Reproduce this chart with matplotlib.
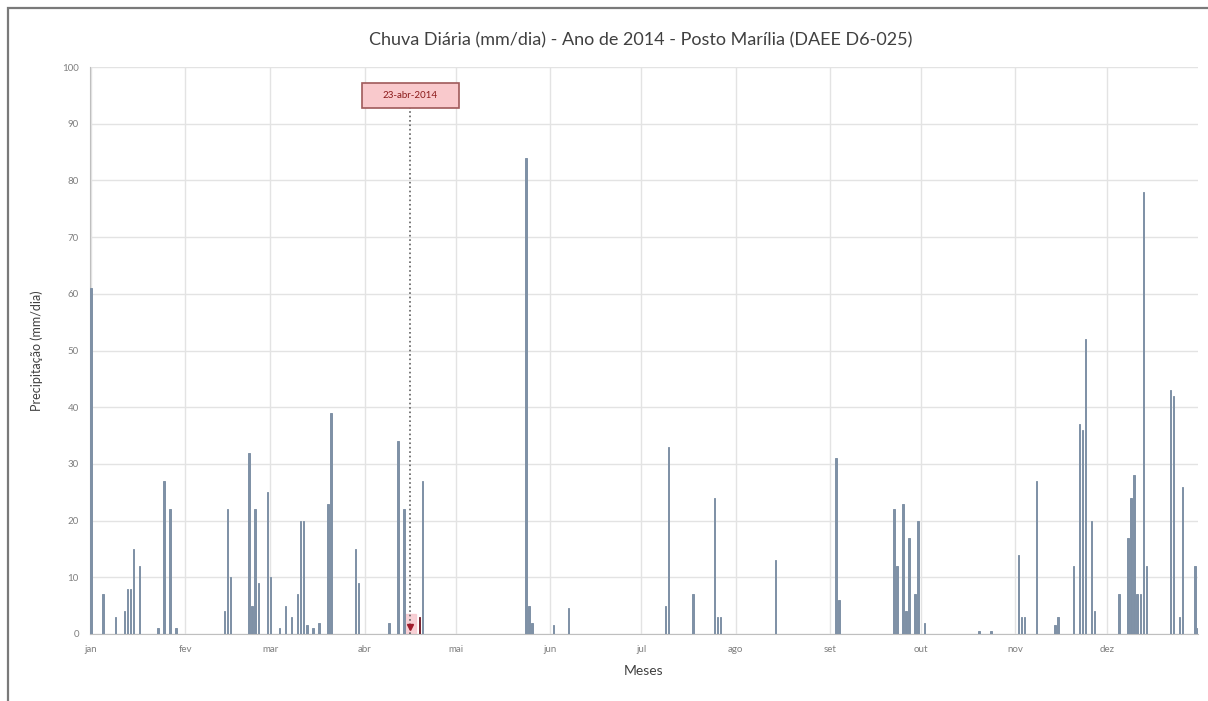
import pandas as pd
import matplotlib.pyplot as plt
from matplotlib.patches import Rectangle

# chuva diaria 2014 - posto Marilia
datas = ['01-01', '01-05', '01-09', '01-12', '01-13', '01-14', '01-15', '01-17',
         '01-23', '01-25', '01-27', '01-29',
         '02-14', '02-15', '02-16', '02-22', '02-23', '02-24', '02-25', '02-28',
         '03-01', '03-04', '03-06', '03-08', '03-10', '03-11', '03-12', '03-13',
         '03-15', '03-17', '03-20', '03-21', '03-29', '03-30',
         '04-09', '04-12', '04-14', '04-19', '04-20',
         '05-24', '05-25', '05-26', '06-02', '06-07',
         '07-09', '07-10', '07-18', '07-25', '07-26', '07-27', '08-14',
         '09-03', '09-04', '09-22', '09-23', '09-25', '09-26', '09-27', '09-29',
         '09-30', '10-02', '10-20', '10-24',
         '11-02', '11-03', '11-04', '11-08', '11-14', '11-15', '11-20', '11-22',
         '11-23', '11-24', '11-26', '11-27',
         '12-05', '12-08', '12-09', '12-10', '12-11', '12-12', '12-13', '12-14',
         '12-22', '12-23', '12-25', '12-26', '12-30', '12-31']
chuva = [61, 7, 3, 4, 8, 8, 15, 12,
         1, 27, 22, 1,
         4, 22, 10, 32, 5, 22, 9, 25,
         10, 1, 5, 3, 7, 20, 20, 1.5,
         1, 2, 23, 39, 15, 9,
         2, 34, 22, 3, 27,
         84, 5, 2, 1.5, 4.5,
         5, 33, 7, 24, 3, 3, 13,
         31, 6, 22, 12, 23, 4, 17, 7,
         20, 2, 0.5, 0.5,
         14, 3, 3, 27, 1.5, 3, 12, 37,
         36, 52, 20, 4,
         7, 17, 24, 28, 7, 7, 78, 12,
         43, 42, 3, 26, 12, 1]

meses = ['jan', 'fev', 'mar', 'abr', 'mai', 'jun', 'jul', 'ago', 'set', 'out', 'nov', 'dez']
evento_data = '04-16'
evento_texto = '23-abr-2014'
destaque = '04-19'

inicio = pd.Timestamp('2014-01-01')
def dia(md):
    return (pd.Timestamp('2014-' + md) - inicio).days

x = [dia(d) for d in datas]
cores = ['#7a2430' if d == destaque else '#7f91a6' for d in datas]
ticks = [(pd.Timestamp(2014, m, 1) - inicio).days for m in range(1, 13)]

plt.rcParams['font.family'] = ['Lato', 'DejaVu Sans']
fig = plt.figure(figsize=(12.08, 7.01), dpi=100)
fig.patches.append(Rectangle((0.007, -0.05), 1.1, 1.038, transform=fig.transFigure,
                             fill=False, ec='#7a7a7a', lw=1.6))
ax = fig.add_axes([0.0745, 0.0956, 0.9172, 0.8088])

ax.bar(x, chuva, width=0.45, color=cores, edgecolor=cores, lw=0.7, zorder=3)

ax.set_xlim(-0.3, 364)
ax.set_ylim(0, 100)
ax.set_yticks(range(0, 101, 10))
ax.set_xticks(ticks)
ax.set_xticklabels(meses)
ax.grid(True, color='#e3e3e3', lw=1, zorder=0)
ax.tick_params(length=0, labelsize=7, colors='#7f7f7f', pad=8)
for s in ['top', 'right']:
    ax.spines[s].set_visible(False)
ax.spines['left'].set_color('#bfbfbf')
ax.spines['bottom'].set_color('#bfbfbf')

# evento
xe = dia(evento_data)
ax.add_patch(Rectangle((xe - 2, 0), 4, 3.5, color='#f7c6cc', alpha=0.8, zorder=2))
ax.plot([xe, xe], [0, 92.8], ls=':', color='#606060', lw=1.2, zorder=4)
ax.plot(xe, 1.2, marker='v', color='#a01c2c', ms=5, zorder=5)
ax.add_patch(Rectangle((xe - 15.8, 92.8), 31.8, 4.4, fc='#f9c9cc', ec='#a05a5a',
                       lw=1.2, zorder=6))
ax.text(xe, 95.0, evento_texto, ha='center', va='center', fontsize=7, color='#8b1a1a',
        zorder=7)

fig.text(0.53, 0.943, 'Chuva Diária (mm/dia) - Ano de 2014 - Posto Marília (DAEE D6-025)',
         ha='center', va='center', fontsize=13, color='#404040')
ax.set_ylabel('Precipitação (mm/dia)', fontsize=9, color='#404040', labelpad=14)
ax.set_xlabel('Meses', fontsize=10, color='#404040', labelpad=8)

fig.savefig('out.png', dpi=100)
